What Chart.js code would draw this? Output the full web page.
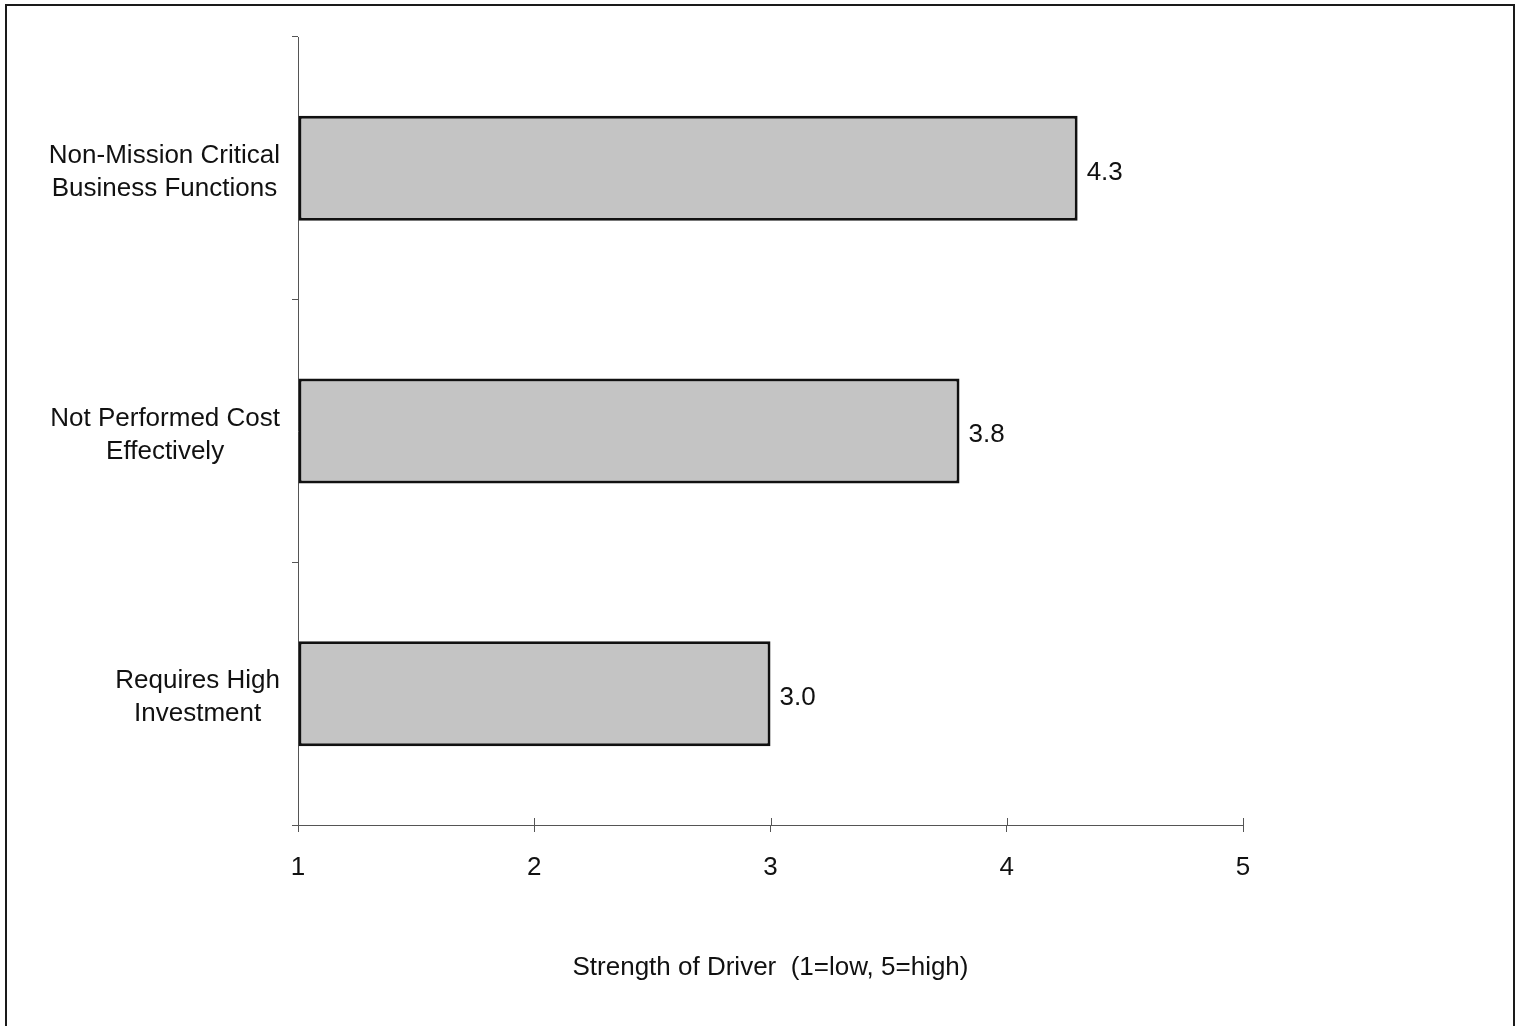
<!DOCTYPE html>
<html>
<head>
<meta charset="utf-8">
<title>Strength of Driver</title>
<script src="https://cdn.jsdelivr.net/npm/chart.js@4.4.1/dist/chart.umd.min.js"></script>
<style>
    html, body { margin: 0; padding: 0; background: #fff; }
    canvas { display: block; }
</style>
</head>
<body>
<canvas id="driverChart" width="1516" height="1026"></canvas>
<script>
// Chart data
const categories = [
    ['Non-Mission Critical', 'Business Functions'],
    ['Not Performed Cost', 'Effectively'],
    ['Requires High', 'Investment']
];
const strengths = [4.3, 3.8, 3.0];
const xTicks = [1, 2, 3, 4, 5];
const xTitle = 'Strength of Driver  (1=low, 5=high)';

const FONT = '"Liberation Sans", Arial, Helvetica, sans-serif';
const FONT_SIZE = 26;
const AXIS_COLOR = '#555';

// Outer frame around the figure
const framePlugin = {
    id: 'frame',
    beforeDraw(chart) {
        const ctx = chart.ctx;
        ctx.save();
        ctx.fillStyle = '#fff';
        ctx.fillRect(0, 0, chart.width, chart.height);
        ctx.strokeStyle = '#1a1a1a';
        ctx.lineWidth = 2;
        ctx.strokeRect(6, 5, 1508, 1100);
        ctx.restore();
    }
};

// Category labels: block right-aligned, lines centred inside the block
const yLabelPlugin = {
    id: 'yLabels',
    afterDraw(chart) {
        const ctx = chart.ctx;
        const yScale = chart.scales.y;
        ctx.save();
        ctx.font = FONT_SIZE + 'px ' + FONT;
        ctx.fillStyle = '#111';
        ctx.textAlign = 'center';
        ctx.textBaseline = 'middle';
        categories.forEach((lines, i) => {
            const y = yScale.getPixelForTick(i) + 4;
            const maxW = Math.max(...lines.map(l => ctx.measureText(l).width));
            const cx = yScale.right - 18 - maxW / 2;
            const lh = 33;
            const top = y - (lines.length - 1) * lh / 2;
            lines.forEach((l, j) => ctx.fillText(l, cx, top + j * lh));
        });
        ctx.restore();
    }
};

// Value labels at bar ends + small upward tick marks on x axis
const valueLabelPlugin = {
    id: 'valueLabels',
    afterDatasetsDraw(chart) {
        const ctx = chart.ctx;
        const meta = chart.getDatasetMeta(0);
        ctx.save();
        ctx.font = FONT_SIZE + 'px ' + FONT;
        ctx.fillStyle = '#111';
        ctx.textAlign = 'left';
        ctx.textBaseline = 'middle';
        meta.data.forEach((bar, i) => {
            ctx.fillText(strengths[i].toFixed(1), bar.x + 9, bar.y + 4);
        });

        const xScale = chart.scales.x;
        const bottom = chart.chartArea.bottom;
        ctx.strokeStyle = AXIS_COLOR;
        ctx.lineWidth = 1;
        xTicks.slice(1).forEach(v => {
            const x = Math.round(xScale.getPixelForValue(v)) + 0.5;
            ctx.beginPath();
            ctx.moveTo(x, bottom - 7);
            ctx.lineTo(x, bottom);
            ctx.stroke();
        });
        ctx.restore();
    }
};

const ctx = document.getElementById('driverChart').getContext('2d');

new Chart(ctx, {
    type: 'bar',
    data: {
        labels: categories,
        datasets: [{
            data: strengths,
            base: 1,
            backgroundColor: '#c4c4c4',
            borderColor: '#111',
            borderWidth: 3,
            borderSkipped: false,
            barPercentage: 0.4,
            categoryPercentage: 1.0
        }]
    },
    options: {
        indexAxis: 'y',
        responsive: false,
        animation: false,
        devicePixelRatio: 1,
        layout: {
            padding: { top: 37, right: 273, bottom: 0, left: 0 }
        },
        plugins: {
            legend: { display: false },
            tooltip: { enabled: false }
        },
        scales: {
            x: {
                min: 1,
                max: 5,
                afterFit(scale) { scale.height = 201; },
                afterBuildTicks(scale) {
                    scale.ticks = xTicks.map(v => ({ value: v }));
                },
                grid: {
                    drawOnChartArea: false,
                    tickLength: 7,
                    color: AXIS_COLOR
                },
                border: { color: AXIS_COLOR, width: 1 },
                ticks: {
                    padding: 20,
                    color: '#111',
                    font: { family: FONT, size: FONT_SIZE }
                },
                title: {
                    display: true,
                    text: xTitle,
                    color: '#111',
                    font: { family: FONT, size: FONT_SIZE },
                    padding: { top: 0, bottom: 43 }
                }
            },
            y: {
                afterFit(scale) { scale.width = 298; },
                grid: {
                    offset: true,
                    drawOnChartArea: false,
                    tickLength: 6,
                    color: AXIS_COLOR
                },
                border: { color: AXIS_COLOR, width: 1 },
                ticks: { display: false }
            }
        }
    },
    plugins: [framePlugin, yLabelPlugin, valueLabelPlugin]
});
</script>
</body>
</html>
